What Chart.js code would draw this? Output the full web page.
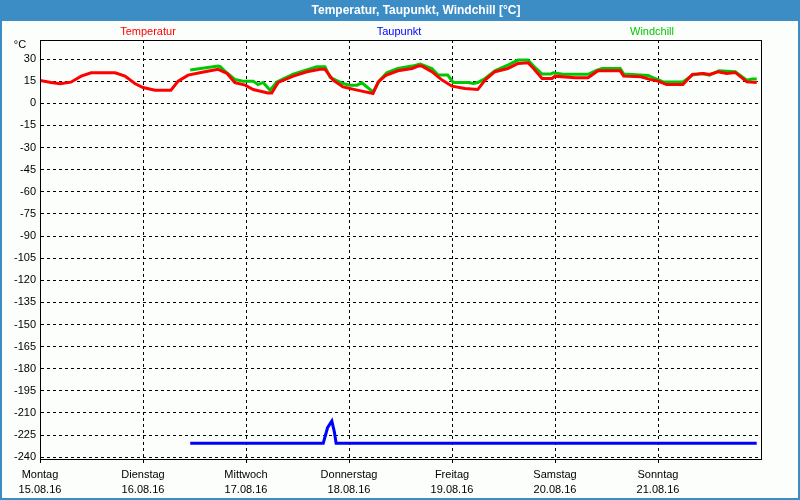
<!DOCTYPE html>
<html>
<head>
<meta charset="utf-8">
<script src="https://cdn.jsdelivr.net/npm/chart.js@4.4.1/dist/chart.umd.min.js"></script>
<style>
  html, body { margin: 0; padding: 0; background: #fff; }
  #wrap { width: 800px; height: 500px; }
</style>
</head>
<body>
<div id="wrap"><canvas id="myChart" width="800" height="500"></canvas></div>
<script>
// hours since Monday 00:00
const dayTicks = [0, 24, 48, 72, 96, 120, 144, 168];
const dayNames = ["Montag", "Dienstag", "Mittwoch", "Donnerstag", "Freitag", "Samstag", "Sonntag", ""];
const dayDates = ["15.08.16", "16.08.16", "17.08.16", "18.08.16", "19.08.16", "20.08.16", "21.08.16", ""];
const yTicks = [30, 15, 0, -15, -30, -45, -60, -75, -90, -105, -120, -135, -150, -165, -180, -195, -210, -225, -240];

const tempHours = [0, 2.6, 4.7, 7.2, 9.6, 11.9, 17.5, 19.8, 22.1, 24, 26.8, 30.5, 32.2, 34.5, 38.4, 41.5, 43.6, 45.4, 47.8, 49.7,
  53.1, 54, 55.5, 59, 62.2, 65.2, 66.4, 68.3, 70.6, 73.9, 77.6, 78.8, 80.6, 83.4, 86.7, 88.1, 89, 91.3, 93.7, 96,
  99, 102, 103.7, 106, 109, 111.4, 113.7, 115, 117, 119.3, 120, 124.7, 127.7, 130, 135.2, 136, 140, 142.1, 144, 146,
  149.8, 152, 154.6, 156, 158, 160, 162, 164.7, 167];
const tempValues = [15.5, 14.1, 13.2, 14.3, 18.4, 20.7, 20.7, 18.4, 13.4, 10.7, 8.9, 8.9, 15, 19.1, 21.4, 23, 20.2, 13.9, 12.3, 9.3,
  7, 7, 14.1, 18.4, 21.4, 23, 23, 15.7, 11.1, 8.9, 6.6, 14.5, 19, 22, 23.6, 25.2, 25.2, 21.4, 15.7, 11.6,
  10, 9.3, 15.7, 21.4, 23.6, 27, 27.5, 23.6, 16.8, 16.8, 18.4, 17.3, 17.3, 22, 22, 18.4, 18, 16.2, 15, 12.7,
  12.7, 19.6, 20.2, 19.6, 21.4, 20.2, 20.9, 14.5, 14.1];

const dewHours = [35, 66, 67, 68, 68.6, 69, 167];
const dewValues = [-230.5, -230.5, -220, -215.5, -223, -230.5, -230.5];

const chillHours = [35, 41.5, 42, 43, 45.4, 47.3, 49.7, 50.8, 52, 53.6, 55.2, 59, 64.5, 66.4, 67.6, 70.6, 72.2, 73.9, 75, 77.6,
  79.2, 80.8, 83.4, 86.7, 88.6, 91.3, 92.8, 95, 96.3, 99.7, 101, 102, 103.7, 106, 109, 111.4, 113.7, 115, 117, 119,
  119.6, 122.3, 127.7, 129.8, 131, 135.2, 136, 141.7, 143.3, 145.2, 149.8, 152, 154.3, 156, 158.2, 162, 164.7, 166, 167];
const chillValues = [22.5, 25.2, 24.8, 22, 16.2, 15, 15, 12.7, 14.1, 8.9, 14.5, 19.8, 24.8, 24.8, 17.5, 13.4, 12.3, 12.3, 13.9, 7.7,
  15.7, 20.7, 23.6, 25.2, 26.6, 23.6, 19.1, 19.1, 14.1, 14.1, 13.4, 14.1, 16.8, 22, 25.9, 29.3, 29.3, 25.2, 19.8, 19.8,
  20.7, 19.6, 19.6, 22.5, 23.6, 23.6, 19.8, 18.9, 16.8, 14.5, 14.5, 19.1, 20.2, 19.1, 22, 21.4, 15.7, 16.4, 16.4];

const pts = (xs, ys) => xs.map((h, i) => ({ x: h, y: ys[i] }));

const FONT = "'Liberation Sans', Arial, sans-serif";

const frame = {
  id: "frame",
  beforeDraw(chart) {
    const c = chart.ctx;
    c.save();
    c.fillStyle = "#3c8dc5";
    c.fillRect(0, 0, 800, 500);
    c.fillStyle = "#fcfefc";
    c.fillRect(2, 21, 796, 477);
    c.restore();
  },
  afterDraw(chart) {
    const c = chart.ctx;
    const a = chart.chartArea;
    c.save();
    // plot frame
    c.strokeStyle = "#000";
    c.lineWidth = 1;
    c.strokeRect(Math.round(a.left) + 0.5, Math.round(a.top) + 0.5, Math.round(a.right - a.left), Math.round(a.bottom - a.top));
    // title
    c.fillStyle = "#fff";
    c.font = "bold 12px " + FONT;
    c.textAlign = "center";
    c.textBaseline = "middle";
    c.fillText("Temperatur, Taupunkt, Windchill [°C]", 416, 11);
    // legend
    c.font = "11px " + FONT;
    const lx = [148, 399, 652];
    chart.data.datasets.forEach((ds, i) => {
      c.fillStyle = ds.borderColor;
      c.fillText(ds.label, lx[i], 32);
    });
    // unit
    c.fillStyle = "#000";
    c.fillText("°C", 20, 45);
    c.restore();
  }
};

const ctx = document.getElementById("myChart");
const chart = new Chart(ctx, {
  type: "line",
  data: {
    datasets: [
      {
        label: "Temperatur",
        data: pts(tempHours, tempValues),
        borderColor: "#ff0000",
        borderWidth: 3,
        pointRadius: 0,
        tension: 0,
        fill: false
      },
      {
        label: "Taupunkt",
        data: pts(dewHours, dewValues),
        borderColor: "#0000ff",
        borderWidth: 3,
        pointRadius: 0,
        tension: 0,
        fill: false
      },
      {
        label: "Windchill",
        data: pts(chillHours, chillValues),
        borderColor: "#00c800",
        borderWidth: 3,
        pointRadius: 0,
        tension: 0,
        fill: false
      }
    ]
  },
  options: {
    responsive: false,
    animation: false,
    devicePixelRatio: 1,
    layout: { padding: { left: 0, top: 40, right: 39, bottom: 0 } },
    plugins: { legend: { display: false }, tooltip: { enabled: false } },
    scales: {
      x: {
        type: "linear",
        min: 0,
        max: 168,
        afterBuildTicks: (s) => { s.ticks = dayTicks.map(v => ({ value: v })); },
        afterFit: (s) => { s.height = 41; },
        ticks: {
          autoSkip: false,
          maxRotation: 0,
          padding: 5,
          color: "#000",
          font: { family: FONT, size: 11, lineHeight: 1.35 },
          callback: (v) => {
            const i = dayTicks.indexOf(v);
            return i < 0 || !dayNames[i] ? "" : [dayNames[i], dayDates[i]];
          }
        },
        grid: {
          color: "#000",
          lineWidth: 1,
          tickLength: 4,
          tickColor: (c) => (c.tick && c.tick.value === 168 ? "rgba(0,0,0,0)" : "#000")
        },
        border: { display: true, color: "#000", width: 1, dash: [3, 3] }
      },
      y: {
        min: -241.2,
        max: 42.9,
        afterBuildTicks: (s) => { s.ticks = yTicks.map(v => ({ value: v })); },
        afterFit: (s) => { s.width = 40; },
        ticks: {
          padding: 4,
          color: "#000",
          font: { family: FONT, size: 11 },
          callback: (v) => String(v)
        },
        grid: { color: "#000", lineWidth: 1, drawTicks: false },
        border: { display: true, color: "#000", width: 1, dash: [3, 3] }
      }
    }
  },
  plugins: [frame]
});
</script>
</body>
</html>
